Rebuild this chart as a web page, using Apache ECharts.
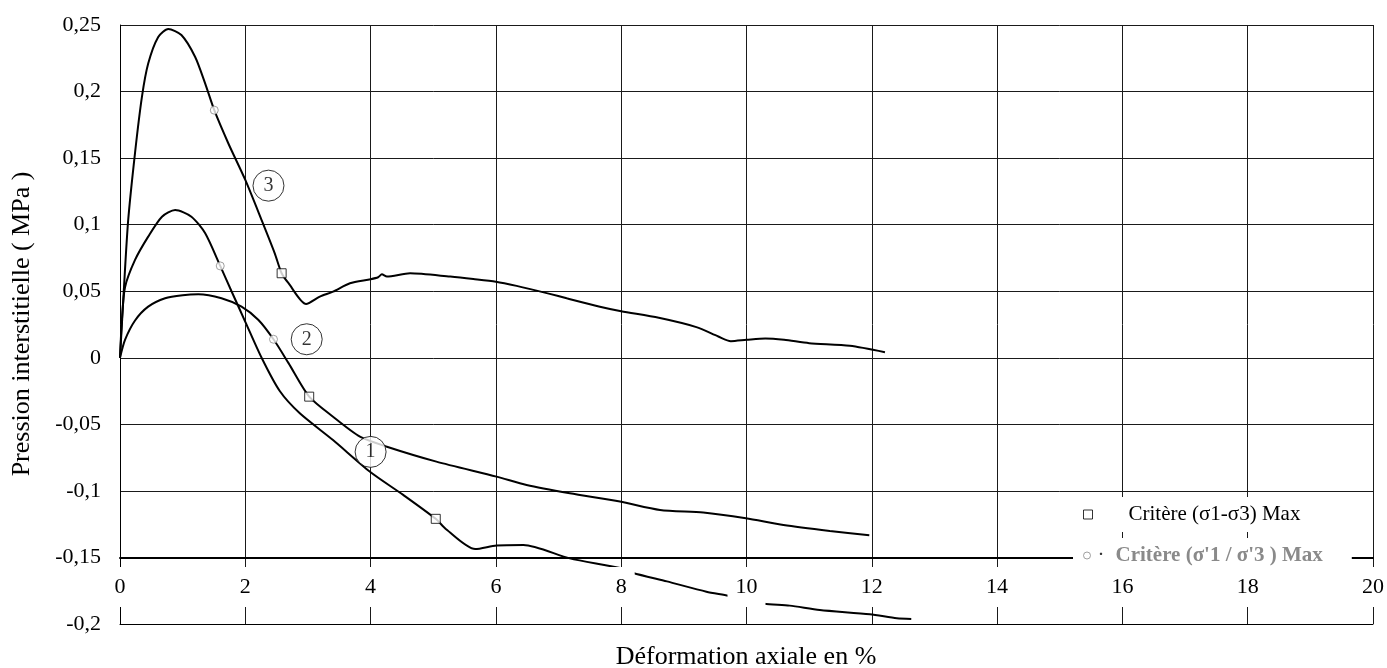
<!DOCTYPE html>
<html>
<head>
<meta charset="utf-8">
<script src="https://cdn.jsdelivr.net/npm/echarts@6/dist/echarts.min.js"></script>
<style>html,body{margin:0;padding:0;background:#fff}#c{width:1387px;height:668px}</style>
</head>
<body>
<div id="c"></div>
<script>
// ---- data ----
const xTicks = [0, 2, 4, 6, 8, 10, 12, 14, 16, 18, 20];
const curveA = [[0,0],[0.06,0.05],[0.13,0.103],[0.24,0.154],[0.35,0.196],[0.45,0.221],[0.61,0.241],[0.77,0.247],[0.98,0.2425],[1.2,0.226],[1.36,0.206],[1.505,0.186],[1.73,0.161],[2.0,0.1336],[2.26,0.1035],[2.47,0.0785],[2.58,0.0635],[2.69,0.056],[2.97,0.0404],[3.19,0.046],[3.4,0.0497],[3.67,0.056],[4.0,0.059],[4.12,0.0605],[4.18,0.0627],[4.26,0.061],[4.63,0.0635],[5.27,0.061],[5.64,0.0592],[6.0,0.0572],[6.33,0.054],[6.86,0.048],[7.13,0.0447],[7.66,0.0384],[8.0,0.035],[8.6,0.03],[9.2,0.023],[9.55,0.016],[9.75,0.0125],[10.0,0.0135],[10.3,0.0145],[10.6,0.0135],[11.0,0.011],[11.65,0.009],[12.21,0.0042]];
const curveB = [[0,0],[0.03,0.028],[0.08,0.053],[0.24,0.0735],[0.45,0.091],[0.67,0.106],[0.88,0.111],[1.14,0.106],[1.36,0.0935],[1.6,0.069],[1.78,0.05],[2.0,0.027],[2.26,0.0],[2.55,-0.025],[2.87,-0.0417],[3.4,-0.0618],[3.99,-0.0856],[4.52,-0.103],[5.04,-0.121],[5.21,-0.129],[5.67,-0.1437],[6.01,-0.141],[6.44,-0.1406],[7.18,-0.1507],[7.98,-0.158],[8.19,-0.1617],[8.73,-0.168],[9.36,-0.1757],[9.71,-0.1787],[10.0,-0.182],[10.28,-0.1847],[10.69,-0.1862],[11.17,-0.1895],[11.97,-0.1927],[12.4,-0.1957],[12.63,-0.1962]];
const curveC = [[0,0],[0.08,0.0134],[0.24,0.028],[0.45,0.0384],[0.72,0.0447],[1.0,0.047],[1.25,0.0477],[1.62,0.0447],[1.94,0.0384],[2.21,0.0284],[2.45,0.0139],[2.69,-0.004],[3.02,-0.0292],[3.4,-0.0443],[3.83,-0.0593],[4.26,-0.0668],[5.05,-0.078],[6.01,-0.0893],[6.49,-0.0956],[7.18,-0.1018],[7.98,-0.108],[8.62,-0.1143],[9.31,-0.1163],[9.99,-0.1206],[10.59,-0.1256],[11.33,-0.1301],[11.96,-0.1334]];
const squareMarkers = [[2.58,0.0635],[3.02,-0.0292],[5.04,-0.121]];
const circleMarkers = [[1.505,0.186],[1.6,0.069],[2.45,0.0139]];
const curveLabels = [{name:'3', value:[2.37,0.1293]},{name:'2', value:[2.98,0.0139]},{name:'1', value:[4.0,-0.0707]}];
const legendSquare = 'Critère (σ1-σ3) Max';
const legendCircle = "Critère (σ'1 / σ'3 ) Max";
const yTitle = 'Pression interstitielle ( MPa )';
const xTitle = 'Déformation axiale en %';

// ---- layout ----
const G = {left:120, right:14, top:25, bottom:44};
const plotH = 668 - G.top - G.bottom;
const yMin = -0.2, yMax = 0.25;
const axisLineOffset = -plotH * ((-0.15) - yMin) / (yMax - yMin);
const FONT = 'Liberation Serif';

const chart = echarts.init(document.getElementById('c'));
const lineSeries = (d) => ({type:'line', data:d, showSymbol:false, smooth:0.25, z:2,
  lineStyle:{color:'#000', width:2}, itemStyle:{color:'#000'}, silent:true});

chart.setOption({
  animation:false,
  backgroundColor:'#fff',
  grid:{left:G.left, right:G.right, top:G.top, bottom:G.bottom, containLabel:false, outerBoundsMode:'none'},
  xAxis:[
    {type:'value', min:0, max:20, interval:2, position:'bottom',
     axisLine:{show:true, onZero:false, lineStyle:{color:'#000', width:1}},
     axisTick:{show:false}, axisLabel:{show:false},
     splitLine:{show:true, lineStyle:{color:'#1a1a1a', width:1}}},
    {type:'value', min:0, max:20, interval:2, position:'bottom', z:3,
     axisLine:{show:false, onZero:false}, axisTick:{show:false}, splitLine:{show:false},
     axisLabel:{show:true, inside:true, margin:17, interval:0, showMinLabel:true, showMaxLabel:true,
       hideOverlap:false,
       backgroundColor:'#fff', padding:[9,8,9,8], fontSize:22, fontFamily:FONT, color:'#000',
       formatter:(v)=> xTicks.includes(v) ? String(v) : ''}},
    {type:'value', min:0, max:20, position:'bottom', offset:axisLineOffset, z:1,
     axisLine:{show:true, onZero:false, lineStyle:{color:'#000', width:2}},
     axisTick:{show:false}, axisLabel:{show:false}, splitLine:{show:false}}
  ],
  yAxis:{type:'value', min:yMin, max:yMax, interval:0.05,
    axisLine:{show:true, onZero:false, lineStyle:{color:'#000', width:1}},
    axisTick:{show:false},
    splitLine:{show:true, lineStyle:{color:'#1a1a1a', width:1}},
    axisLabel:{margin:19, fontSize:22, fontFamily:FONT, color:'#000',
      formatter:(v)=> String(Number(v.toFixed(2))).replace('.', ',')}},
  legend:[
    {left:1073, top:497, orient:'vertical', padding:[7,10,7,10], backgroundColor:'#fff', z:6,
     selectedMode:false, itemWidth:9, itemHeight:9,
     textStyle:{fontFamily:FONT, fontSize:21, color:'#000', padding:[0,0,0,31]},
     data:[{name:legendSquare, icon:'rect', itemStyle:{color:'#fff', borderColor:'#000', borderWidth:1}}]},
    {left:1073, top:538, orient:'vertical', padding:[7,29,8,10], backgroundColor:'#fff', z:6,
     selectedMode:false, itemWidth:7, itemHeight:7,
     formatter:(n)=> '{d|·}{t|' + n + '}',
     textStyle:{fontFamily:FONT, fontSize:21, color:'#888',
       rich:{d:{fontFamily:FONT, fontSize:21, color:'#333', padding:[0,11,0,2]},
             t:{fontFamily:FONT, fontSize:21, fontWeight:'bold', color:'#8a8a8a'}}},
     data:[{name:legendCircle, icon:'circle', itemStyle:{color:'#fff', borderColor:'#888', borderWidth:1}}]}
  ],
  graphic:[
    {type:'text', x:22, y:324, rotation:Math.PI/2,
     style:{text:yTitle, font:'26px "Liberation Serif"', fill:'#000', textAlign:'center', textVerticalAlign:'middle'}},
    {type:'text', x:746, y:657,
     style:{text:xTitle, font:'26px "Liberation Serif"', fill:'#000', textAlign:'center', textVerticalAlign:'middle'}}
  ],
  series:[
    lineSeries(curveA),
    lineSeries(curveB),
    lineSeries(curveC),
    {type:'scatter', name:legendSquare, data:squareMarkers, symbol:'rect', symbolSize:9, z:4,
     itemStyle:{color:'#fff', borderColor:'#000', borderWidth:1}},
    {type:'scatter', name:legendCircle, data:circleMarkers, symbol:'circle', symbolSize:8, z:4,
     itemStyle:{color:'#fff', borderColor:'#888', borderWidth:1}},
    {type:'scatter', data:curveLabels, symbol:'circle', symbolSize:31, z:5, silent:true,
     itemStyle:{color:'#fff', borderColor:'#000', borderWidth:1},
     label:{show:true, position:'inside', formatter:(p)=>p.name, fontFamily:FONT, fontSize:20, color:'#000'}}
  ]
});
</script>
</body>
</html>
